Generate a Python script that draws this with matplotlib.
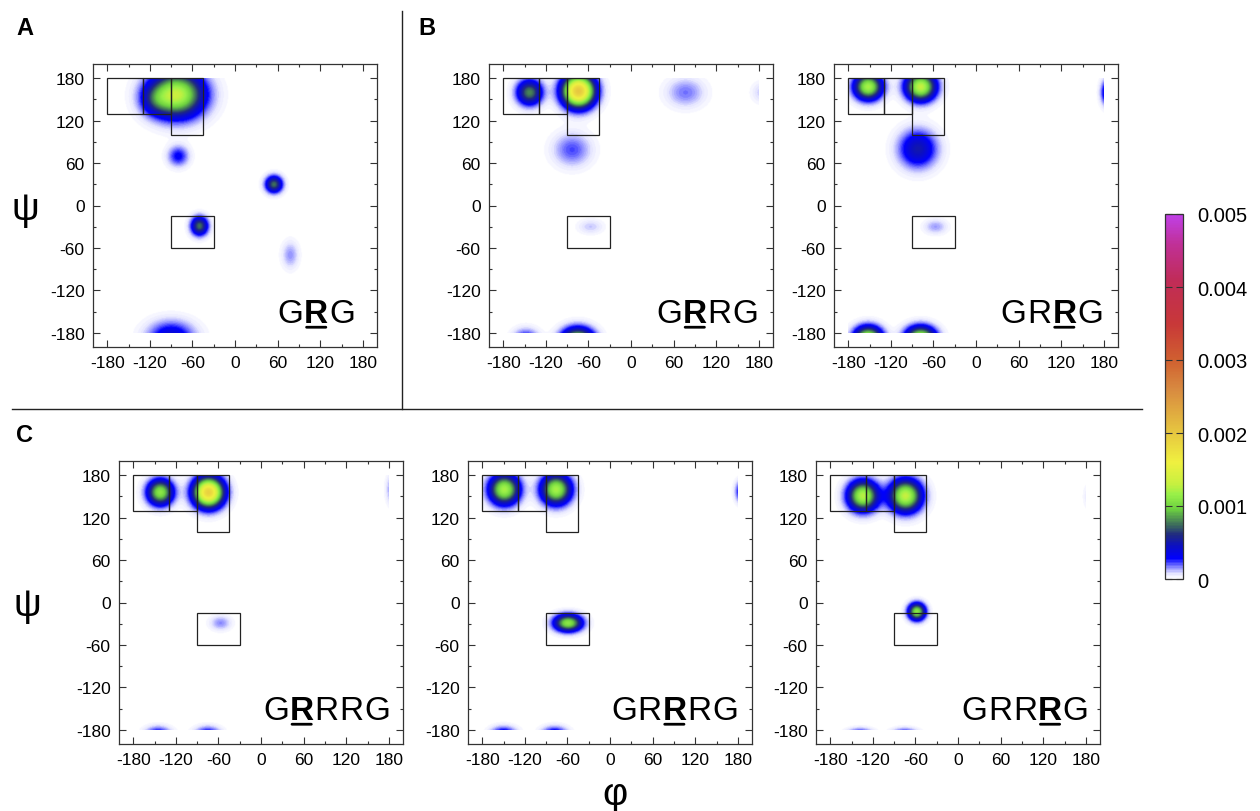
import numpy as np
import matplotlib
matplotlib.use("Agg")
import matplotlib.pyplot as plt
from matplotlib.colors import LinearSegmentedColormap
from matplotlib.patches import Rectangle
from matplotlib.lines import Line2D

plt.rcParams['font.family'] = ['Liberation Sans', 'DejaVu Sans']
plt.rcParams['axes.unicode_minus'] = False

# density peaks: (phi, psi, sigma_phi, sigma_psi, peak height)
grg = [(-82, 157, 25, 21, 0.0013), (-112, 150, 14, 14, 0.0003),
       (-90, -186, 22, 15, 0.00042),
       (-80, 70, 10, 10, 0.0003), (55, 30, 8, 8, 0.00075),
       (-50, -29, 8, 9, 0.00075), (78, -70, 8, 13, 0.00015)]
grrg_1 = [(-143, 160, 12, 12, 0.0008), (-74, 162, 15, 15, 0.002),
          (-83, 79, 18, 16, 0.00022), (77, 160, 18, 14, 0.00018),
          (185, 160, 10, 10, 0.0001), (-57, -30, 12, 7, 0.0001),
          (-148, -190, 12, 10, 0.00035), (-75, -192, 15, 12, 0.0013)]
grrg_2 = [(-152, 168, 13, 12, 0.0012), (-78, 168, 14, 13, 0.0013),
          (-82, 80, 18, 18, 0.0005), (-57, -30, 11, 7, 0.00014),
          (185, 160, 6, 12, 0.00045),
          (-152, -188, 13, 11, 0.0013), (-78, -188, 14, 11, 0.0013)]
grrrg_1 = [(-142, 156, 12, 12, 0.0011), (-74, 156, 14, 14, 0.0019),
           (-57, -29, 10, 7, 0.00016), (186, 160, 6, 14, 0.0002),
           (-145, -186, 12, 7, 0.00035), (-75, -186, 12, 7, 0.00035)]
grrrg_2 = [(-149, 160, 14, 14, 0.0012), (-76, 160, 14, 14, 0.0012),
           (-59, -29, 13, 8, 0.0011), (186, 157, 6, 10, 0.0004),
           (-150, -186, 12, 7, 0.0004), (-78, -186, 12, 7, 0.0004)]
grrrg_3 = [(-134, 151, 14, 14, 0.00125), (-74, 151, 15, 15, 0.0013),
           (-58, -13, 8, 8, 0.0011), (186, 150, 6, 12, 0.00008),
           (-138, -185, 12, 5, 0.0003), (-75, -185, 12, 5, 0.0003)]

# (phi0, psi0, width, height) of the marked regions
regions = [(-180, 130, 50, 50), (-130, 130, 40, 50), (-90, 100, 45, 80), (-90, -60, 60, 45)]

angle_ticks = [-180, -120, -60, 0, 60, 120, 180]
cbar_ticks = [0, 0.001, 0.002, 0.003, 0.004, 0.005]
cbar_labels = ['0', '0.001', '0.002', '0.003', '0.004', '0.005']

palette = [(0.0, '#ffffff'), (0.012, '#e6e6ff'), (0.03, '#8c8cff'), (0.054, '#0000ff'),
           (0.09, '#0c10c0'), (0.12, '#202a80'), (0.146, '#3c6a5c'), (0.19, '#6cd040'),
           (0.23, '#98f048'), (0.26, '#c8f040'), (0.32, '#f0f040'), (0.39, '#e8cc40'),
           (0.52, '#d88a40'), (0.60, '#d06030'), (0.70, '#c83838'), (0.82, '#c02c58'),
           (0.92, '#c03098'), (1.0, '#c040e8')]
cmap = LinearSegmentedColormap.from_list('rama', palette)

W, H = 1260, 812
fig = plt.figure(figsize=(W / 100, H / 100), dpi=100)


def px_rect(left, top, w, h):
    return [left / W, 1 - (top + h) / H, w / W, h / H]


grid = np.linspace(-180, 180, 361)
PHI, PSI = np.meshgrid(grid, grid)


def density(peaks):
    z = np.zeros_like(PHI)
    for p0, s0, sp, ss, amp in peaks:
        z += amp * np.exp(-((PHI - p0) ** 2 / (2 * sp ** 2) + (PSI - s0) ** 2 / (2 * ss ** 2)))
    return z


def seq_label(ax, seq, bold, x_right):
    prev = None
    rtext = None
    for i in range(len(seq) - 1, -1, -1):
        weight = 'bold' if i == bold else 'normal'
        if prev is None:
            t = ax.text(x_right, 0.088, seq[i], transform=ax.transAxes, ha='right',
                        va='baseline', fontsize=24, fontweight=weight)
        else:
            t = ax.annotate(seq[i], xy=(0, 0), xycoords=prev, xytext=(-0.5, 0),
                            textcoords='offset points', ha='right', va='bottom',
                            fontsize=24, fontweight=weight)
        if i == bold:
            rtext = t
        prev = t
    ax.annotate('', xy=(0.1, 0.06), xycoords=rtext, xytext=(0.9, 0.06), textcoords=rtext,
                arrowprops=dict(arrowstyle='-', lw=2, color='black', shrinkA=0, shrinkB=0))


panels = [
    (grg, 'GRG', 1, 0.922, (93, 65)),
    (grrg_1, 'GRRG', 1, 0.948, (489, 65)),
    (grrg_2, 'GRRG', 2, 0.947, (834, 65)),
    (grrrg_1, 'GRRRG', 1, 0.954, (119, 462)),
    (grrrg_2, 'GRRRG', 2, 0.95, (468, 462)),
    (grrrg_3, 'GRRRG', 3, 0.96, (816, 462)),
]

for peaks, seq, bold, xr, (left, top) in panels:
    ax = fig.add_axes(px_rect(left, top, 284, 283))
    im = ax.imshow(density(peaks), origin='lower', extent=[-180, 180, -180, 180],
                   cmap=cmap, vmin=0, vmax=0.005, interpolation='bilinear', aspect='auto')
    for x0, y0, w, h in regions:
        ax.add_patch(Rectangle((x0, y0), w, h, fill=False, lw=0.9, edgecolor='#222222'))
    ax.set_xlim(-200, 200)
    ax.set_ylim(-200, 200)
    ax.set_xticks(angle_ticks)
    ax.set_yticks(angle_ticks)
    ax.set_xticks(range(-150, 180, 60), minor=True)
    ax.set_yticks(range(-150, 180, 60), minor=True)
    ax.tick_params(which='both', direction='in', top=True, right=True,
                   width=0.8, color='#333333', labelsize=12.5)
    ax.tick_params(which='major', length=5, pad=6)
    ax.tick_params(which='minor', length=2.5)
    for s in ax.spines.values():
        s.set_color('#333333')
        s.set_linewidth(0.9)
    seq_label(ax, seq, bold, xr)

cax = fig.add_axes(px_rect(1165, 215, 18, 365))
cb = fig.colorbar(im, cax=cax, ticks=cbar_ticks)
cb.set_ticklabels(cbar_labels)
cb.outline.set_linewidth(0.9)
cb.outline.set_edgecolor('#333333')
cax.tick_params(direction='in', left=True, right=True, length=5, width=0.8,
                color='#333333', labelsize=14.5, pad=10)

# panel letters, axis symbols and separators
fig.text(16 / W, 1 - 17 / H, 'A', fontsize=17, fontweight='bold', ha='left', va='top')
fig.text(418 / W, 1 - 17 / H, 'B', fontsize=17, fontweight='bold', ha='left', va='top')
fig.text(16 / W, 1 - 424 / H, 'C', fontsize=17, fontweight='bold', ha='left', va='top')
fig.text(25 / W, 1 - 210 / H, 'ψ', fontsize=28, ha='center', va='center')
fig.text(27 / W, 1 - 606 / H, 'ψ', fontsize=28, ha='center', va='center')
fig.text(615 / W, 1 - 795 / H, 'φ', fontsize=28, ha='center', va='center')

fig.add_artist(Line2D([402 / W, 402 / W], [1 - 12 / H, 1 - 410 / H], color='#222222', lw=1))
fig.add_artist(Line2D([12 / W, 1142 / W], [1 - 410 / H, 1 - 410 / H], color='#222222', lw=1))

fig.savefig('out.png', dpi=100)
